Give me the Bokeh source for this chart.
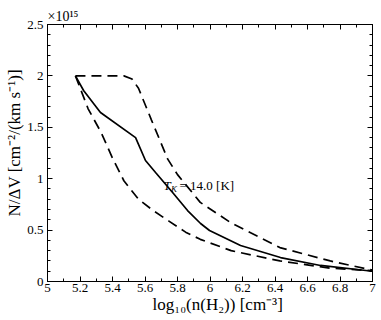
from bokeh.plotting import figure
from bokeh.models import (LinearAxis, FixedTicker, PrintfTickFormatter,
                          CustomLabelingPolicy, Title)
from bokeh.core.properties import value
from bokeh.embed import file_html
from bokeh.resources import INLINE

# ---- data (N/dV in units of 1e15) ----
x_solid = [5.172, 5.222, 5.326, 5.542, 5.603, 5.665, 5.775, 5.862, 5.942, 5.997, 6.188, 6.434, 6.68, 7.0]
y_solid = [2.0, 1.858, 1.644, 1.40, 1.177, 1.06, 0.856, 0.69, 0.564, 0.496, 0.35, 0.233, 0.156, 0.10]

x_upper = [5.172, 5.47, 5.52, 5.56, 5.64, 5.74, 5.80, 5.94, 6.13, 6.43, 6.74, 7.0]
y_upper = [2.0, 2.0, 1.97, 1.88, 1.57, 1.19, 1.04, 0.77, 0.57, 0.33, 0.20, 0.11]

x_lower = [5.172, 5.25, 5.33, 5.40, 5.47, 5.56, 5.65, 5.745, 5.85, 5.94, 6.13, 6.43, 6.74, 7.0]
y_lower = [2.0, 1.68, 1.45, 1.20, 0.98, 0.80, 0.69, 0.59, 0.48, 0.41, 0.30, 0.20, 0.13, 0.105]

x_ticks = [5.0, 5.2, 5.4, 5.6, 5.8, 6.0, 6.2, 6.4, 6.6, 6.8, 7.0]
x_minor = [5.1, 5.3, 5.5, 5.7, 5.9, 6.1, 6.3, 6.5, 6.7, 6.9]
y_ticks = [0.0, 0.5, 1.0, 1.5, 2.0, 2.5]
y_minor = [0.1, 0.2, 0.3, 0.4, 0.6, 0.7, 0.8, 0.9, 1.1, 1.2, 1.3, 1.4,
           1.6, 1.7, 1.8, 1.9, 2.1, 2.2, 2.3, 2.4]

x_label = "log₁₀(n(H₂)) [cm⁻³]"
y_label = "N/ΔV [cm⁻²/(km s⁻¹)]"
multiplier = "×10¹⁵"

FONT = "Liberation Serif"

CW, CH = 381, 320
FL, FR, FT, FB = 47, 372, 24, 281
X0, X1, Y0, Y1 = 5.0, 7.0, 0.0, 2.5


def px2x(px):
    return X0 + (px - FL) * (X1 - X0) / (FR - FL)


def py2y(py):
    return Y0 + (FB - py) * (Y1 - Y0) / (FB - FT)


p = figure(width=CW, height=CH, x_range=(X0, X1), y_range=(Y0, Y1),
           output_backend="svg", toolbar_location=None,
           min_border_left=FL, min_border_right=CW - FR,
           min_border_top=FT, min_border_bottom=CH - FB)
p.grid.visible = False
p.outline_line_color = "black"
p.background_fill_color = "white"

xt = FixedTicker(ticks=x_ticks, minor_ticks=x_minor)
yt = FixedTicker(ticks=y_ticks, minor_ticks=y_minor)
fmt = PrintfTickFormatter(format="%g")


def style_axis(ax, ticker, show_labels, standoff=4):
    ax.ticker = ticker
    ax.formatter = fmt
    ax.axis_line_color = "black"
    ax.major_tick_line_color = "black"
    ax.minor_tick_line_color = "black"
    ax.major_tick_in = 5
    ax.major_tick_out = 0
    ax.minor_tick_in = 3
    ax.minor_tick_out = 0
    ax.major_label_text_font = FONT
    ax.major_label_text_color = "black"
    ax.major_label_text_font_size = "13px"
    ax.major_label_standoff = standoff
    if not show_labels:
        ax.major_label_policy = CustomLabelingPolicy(code="return []")
        ax.major_label_text_font_size = "0px"
        ax.major_label_standoff = 0


style_axis(p.xaxis[0], xt, True, standoff=2)
style_axis(p.yaxis[0], yt, True)
top = LinearAxis()
right = LinearAxis()
style_axis(top, xt, False)
style_axis(right, yt, False)
p.add_layout(top, "above")
p.add_layout(right, "right")

# axis titles and multiplier, placed in the side panels
p.add_layout(Title(text=multiplier, align="left", offset=0, standoff=2,
                   vertical_align="bottom", text_font=FONT, text_font_size="14px",
                   text_font_style="normal", text_color="black"), "above")
p.add_layout(Title(text=y_label, align="left", offset=FB - 216, standoff=2,
                   vertical_align="bottom", text_font=FONT, text_font_size="17px",
                   text_font_style="normal", text_color="black"), "left")
p.add_layout(Title(text=x_label, align="left", offset=152 - FL, standoff=1,
                   vertical_align="top", text_font=FONT, text_font_size="17px",
                   text_font_style="normal", text_color="black"), "below")

p.line(x_upper, y_upper, line_color="black", line_width=1.7, line_dash="10 6")
p.line(x_lower, y_lower, line_color="black", line_width=1.7, line_dash="10 6")
p.line(x_solid, y_solid, line_color="black", line_width=1.7)


def put(txt, px, py, size, style="normal"):
    p.text(x=[px2x(px)], y=[py2y(py)], text=[txt], text_font=value(FONT),
           text_font_size=value(f"{size}px"), text_font_style=value(style),
           text_color="black", text_align="left", text_baseline="alphabetic")


# annotation T_K = 14.0 [K]
put("T", 163, 185, 13, "italic")
put("K", 170.5, 188, 9, "italic")
put("= 14.0 [K]", 179, 185, 13)

open("out.html", "w").write(file_html(p, INLINE))
